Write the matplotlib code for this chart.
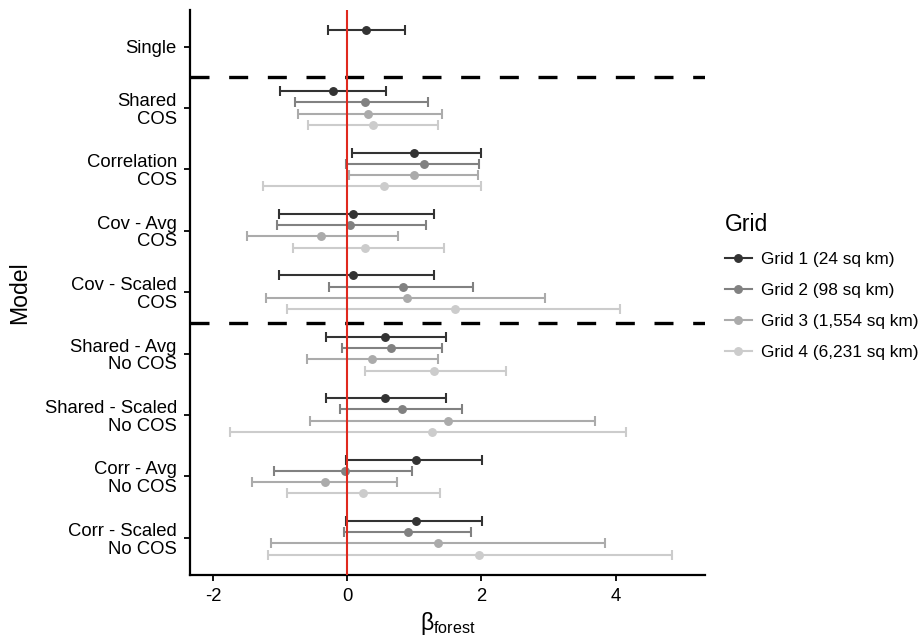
import numpy as np
import matplotlib
matplotlib.use("Agg")
import matplotlib.pyplot as plt
from matplotlib.lines import Line2D

plt.rcParams['font.family'] = ['Liberation Sans', 'DejaVu Sans']
plt.rcParams['mathtext.fontset'] = 'custom'
plt.rcParams['mathtext.rm'] = 'Liberation Sans'
plt.rcParams['mathtext.it'] = 'Liberation Sans:italic'

nan = np.nan

categories = ["Single", "Shared\nCOS", "Correlation\nCOS", "Cov - Avg\nCOS",
              "Cov - Scaled\nCOS", "Shared - Avg\nNo COS", "Shared - Scaled\nNo COS",
              "Corr - Avg\nNo COS", "Corr - Scaled\nNo COS"]
grid_labels = ["Grid 1 (24 sq km)", "Grid 2 (98 sq km)",
               "Grid 3 (1,554 sq km)", "Grid 4 (6,231 sq km)"]
grid_colors = ["#333333", "#818181", "#ababab", "#cccccc"]

g1_est = [0.28, -0.21, 1.00, 0.09, 0.09, 0.57, 0.57, 1.02, 1.02]
g1_lo = [-0.29, -1.00, 0.08, -1.02, -1.02, -0.32, -0.32, -0.02, -0.02]
g1_hi = [0.86, 0.58, 1.99, 1.30, 1.29, 1.48, 1.48, 2.01, 2.01]

g2_est = [nan, 0.26, 1.15, 0.04, 0.83, 0.65, 0.81, -0.03, 0.90]
g2_lo = [nan, -0.77, -0.02, -1.04, -0.27, -0.08, -0.10, -1.09, -0.04]
g2_hi = [nan, 1.20, 1.96, 1.17, 1.87, 1.41, 1.71, 0.97, 1.85]

g3_est = [nan, 0.31, 0.99, -0.39, 0.89, 0.37, 1.50, -0.33, 1.36]
g3_lo = [nan, -0.73, 0.03, -1.49, -1.21, -0.60, -0.56, -1.41, -1.13]
g3_hi = [nan, 1.42, 1.95, 0.76, 2.94, 1.36, 3.69, 0.75, 3.84]

g4_est = [nan, 0.38, 0.55, 0.26, 1.60, 1.29, 1.27, 0.23, 1.96]
g4_lo = [nan, -0.59, -1.25, -0.81, -0.89, 0.26, -1.74, -0.89, -1.18]
g4_hi = [nan, 1.35, 2.00, 1.45, 4.07, 2.37, 4.15, 1.38, 4.84]

estimates = [g1_est, g2_est, g3_est, g4_est]
lowers = [g1_lo, g2_lo, g3_lo, g4_lo]
uppers = [g1_hi, g2_hi, g3_hi, g4_hi]

fig = plt.figure(figsize=(9.22, 6.41), dpi=100)
ax = fig.add_axes([190 / 922, 66.3 / 641, 515 / 922, 564.9 / 641])

ypos = np.arange(len(categories))
dodge = 0.183
for i in range(4):
    est = np.array(estimates[i])
    lo = np.array(lowers[i])
    hi = np.array(uppers[i])
    ok = ~np.isnan(est)
    y = ypos[ok] + (i - 1.5) * dodge
    ax.errorbar(est[ok], y, xerr=[est[ok] - lo[ok], hi[ok] - est[ok]],
                fmt='o', color=grid_colors[i], ms=5.4, elinewidth=1.5,
                capsize=3.8, capthick=1.5, zorder=3)

# section separators
for yy in [0.5, 4.5]:
    ax.axhline(yy, color='black', lw=2.4, linestyle=(0, (5.7, 5.9)), zorder=2)
ax.axvline(0, color='#e0291e', lw=1.5, zorder=4)

ax.set_xlim(-2.34, 5.33)
ax.set_ylim(8.6, -0.6)
ax.set_yticks(ypos)
ax.set_yticklabels(categories, fontsize=13.3, linespacing=1.05)
ax.set_xticks([-2, 0, 2, 4])
ax.set_xticklabels(['-2', '0', '2', '4'], fontsize=13.3)

for s in ['top', 'right']:
    ax.spines[s].set_visible(False)
for s in ['left', 'bottom']:
    ax.spines[s].set_linewidth(1.6)
ax.tick_params(axis='both', width=1.3, length=4.5, pad=5, colors='black')

ax.set_ylabel("Model", fontsize=16.6, labelpad=10)
ax.set_xlabel(r"$\mathrm{\beta}_{\mathrm{forest}}$", fontsize=16.6, labelpad=4)

handles = [Line2D([0], [0], color=c, marker='o', ms=5.4, lw=1.5) for c in grid_colors]
leg = ax.legend(handles, grid_labels, title="Grid", loc='upper left',
                bbox_to_anchor=(716 / 922, 1 - 204 / 641), bbox_transform=fig.transFigure,
                frameon=False, fontsize=12.4, title_fontsize=16.6, borderpad=0,
                handlelength=1.57, handletextpad=0.52, labelspacing=0.93,
                alignment='left')

fig.savefig("out.png", dpi=100)
